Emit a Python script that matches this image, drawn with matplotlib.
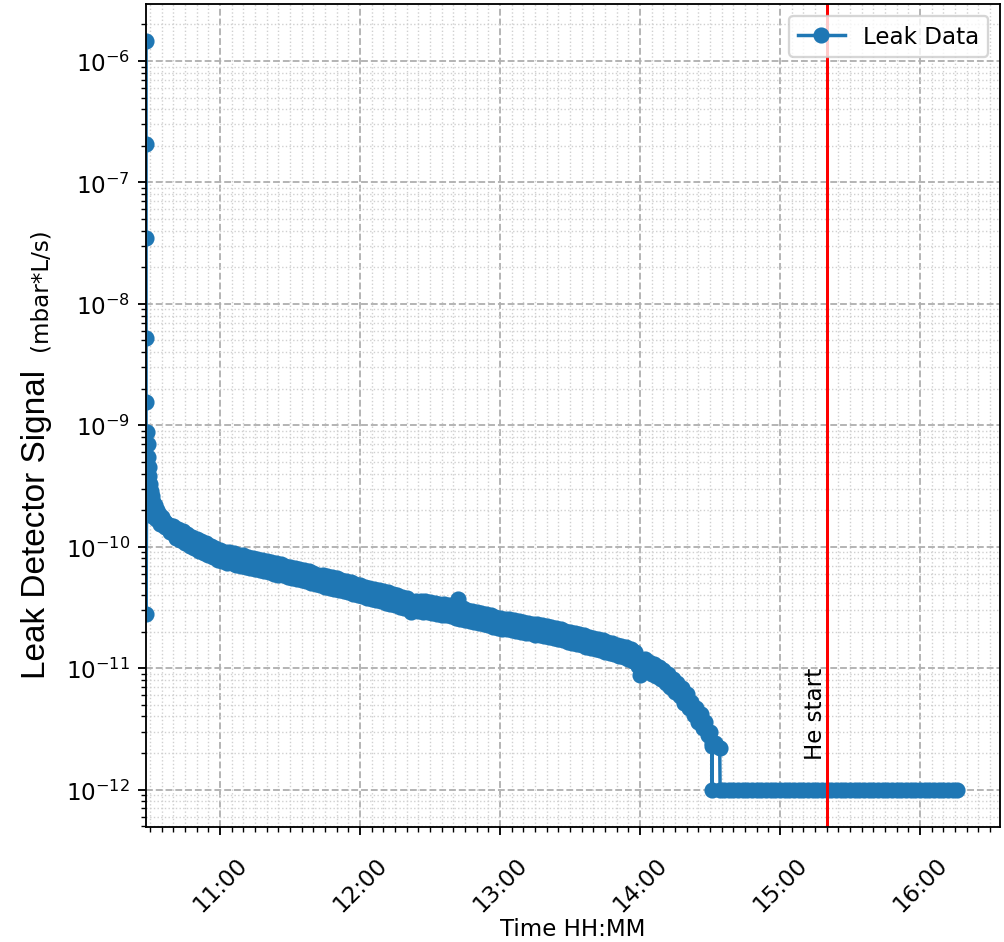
import numpy as np
import pandas as pd
import matplotlib
matplotlib.use("Agg")
import matplotlib.pyplot as plt
import matplotlib.dates as mdates
from matplotlib.ticker import LogLocator, NullFormatter

day = "2024-05-10 "

# first readings right after start (spikes + fast pump-down)
start_times = ["10:28:20"] * 6 + [
    "10:28:40", "10:28:50", "10:29:00", "10:29:10", "10:29:20", "10:29:30",
    "10:29:45", "10:30:00", "10:30:20", "10:30:40", "10:31:00", "10:31:30",
    "10:32:00", "10:32:30", "10:33:00", "10:34:00", "10:34:30", "10:35:00",
    "10:36:00", "10:36:30", "10:37:00", "10:38:00", "10:38:30", "10:39:00"]
start_values = [1.45e-6, 2.07e-7, 3.47e-8, 5.2e-9, 1.55e-9, 2.8e-11,
                8.8e-10, 2.1e-10, 7.0e-10, 5.5e-10, 1.9e-10, 4.5e-10,
                3.8e-10, 3.3e-10, 2.9e-10, 1.8e-10, 2.6e-10, 2.35e-10,
                2.2e-10, 1.7e-10, 2.0e-10, 1.85e-10, 1.55e-10, 1.75e-10,
                1.62e-10, 1.45e-10, 1.58e-10, 1.5e-10, 1.32e-10, 1.45e-10]

# slow decay, readings on even minutes 10:40 ... 14:30 (upper side of the noisy band)
even_values = [
    1.49e-10, 1.41e-10, 1.34e-10, 1.28e-10, 1.21e-10, 1.16e-10, 1.11e-10, 1.07e-10,
    1.02e-10, 9.8e-11, 9.4e-11, 9.1e-11, 9.0e-11, 8.8e-11, 8.6e-11, 8.5e-11,
    8.3e-11, 8.1e-11, 7.9e-11, 7.8e-11, 7.6e-11, 7.5e-11, 7.3e-11, 7.2e-11,
    6.9e-11, 6.8e-11, 6.7e-11, 6.5e-11, 6.4e-11, 6.3e-11, 6.1e-11, 5.9e-11,
    5.8e-11, 5.7e-11, 5.6e-11, 5.5e-11, 5.3e-11, 5.2e-11, 5.1e-11, 4.95e-11,
    4.8e-11, 4.7e-11, 4.6e-11, 4.5e-11, 4.4e-11, 4.3e-11, 4.2e-11, 4.1e-11,
    4.0e-11, 3.85e-11, 3.75e-11, 2.9e-11, 3.6e-11, 3.6e-11, 3.55e-11, 3.5e-11,
    3.45e-11, 3.4e-11, 3.35e-11, 3.3e-11, 3.2e-11, 3.7e-11, 3.1e-11, 3.0e-11,
    2.97e-11, 2.9e-11, 2.84e-11, 2.78e-11, 2.73e-11, 2.66e-11, 2.6e-11, 2.56e-11,
    2.53e-11, 2.49e-11, 2.44e-11, 2.41e-11, 2.37e-11, 2.33e-11, 2.29e-11, 2.26e-11,
    2.22e-11, 2.19e-11, 2.13e-11, 2.09e-11, 2.04e-11, 1.99e-11, 1.95e-11, 1.9e-11,
    1.86e-11, 1.82e-11, 1.77e-11, 1.74e-11, 1.69e-11, 1.65e-11, 1.61e-11, 1.56e-11,
    1.53e-11, 1.49e-11, 1.44e-11, 1.35e-11, 8.8e-12, 1.18e-11, 1.12e-11, 1.08e-11,
    1.03e-11, 9.7e-12, 8.9e-12, 8.1e-12, 7.5e-12, 6.8e-12, 6.1e-12, 5.3e-12,
    4.7e-12, 4.2e-12, 3.6e-12, 3.0e-12]
even_times = pd.date_range(day + "10:40", day + "14:30", freq="2min")

# readings on odd minutes 10:41 ... 14:29 (lower side of the noisy band)
odd_values = [
    1.18e-10, 1.13e-10, 1.07e-10, 1.02e-10, 9.7e-11, 9.3e-11, 8.9e-11, 8.6e-11,
    8.2e-11, 7.8e-11, 7.6e-11, 7.4e-11, 7.3e-11, 7.1e-11, 7.0e-11, 6.8e-11,
    6.7e-11, 6.6e-11, 6.4e-11, 6.3e-11, 6.2e-11, 6.0e-11, 5.9e-11, 5.8e-11,
    5.6e-11, 5.5e-11, 5.4e-11, 5.3e-11, 5.2e-11, 5.0e-11, 4.9e-11, 4.8e-11,
    4.7e-11, 4.6e-11, 4.5e-11, 4.4e-11, 4.3e-11, 4.2e-11, 4.1e-11, 4.0e-11,
    3.9e-11, 3.8e-11, 3.7e-11, 3.65e-11, 3.55e-11, 3.45e-11, 3.4e-11, 3.3e-11,
    3.2e-11, 3.1e-11, 3.05e-11, 3.0e-11, 2.95e-11, 2.9e-11, 2.88e-11, 2.84e-11,
    2.79e-11, 2.75e-11, 2.72e-11, 2.67e-11, 2.6e-11, 2.56e-11, 2.5e-11, 2.46e-11,
    2.4e-11, 2.35e-11, 2.3e-11, 2.25e-11, 2.2e-11, 2.16e-11, 2.12e-11, 2.09e-11,
    2.05e-11, 2.02e-11, 1.98e-11, 1.95e-11, 1.93e-11, 1.89e-11, 1.86e-11, 1.84e-11,
    1.8e-11, 1.77e-11, 1.73e-11, 1.69e-11, 1.65e-11, 1.61e-11, 1.58e-11, 1.54e-11,
    1.5e-11, 1.47e-11, 1.44e-11, 1.4e-11, 1.37e-11, 1.33e-11, 1.3e-11, 1.26e-11,
    1.23e-11, 1.2e-11, 1.14e-11, 1.05e-11, 9.9e-12, 9.5e-12, 9.0e-12, 8.6e-12,
    8.2e-12, 7.6e-12, 7.0e-12, 6.4e-12, 5.9e-12, 5.2e-12, 4.7e-12, 4.1e-12,
    3.6e-12, 3.2e-12, 2.8e-12]
odd_times = pd.date_range(day + "10:41", day + "14:29", freq="2min")

# reaching the detector floor
tail_times = ["14:30:50", "14:30:55", "14:31:00", "14:32:00", "14:33:00",
              "14:34:10", "14:34:20"]
tail_values = [2.4e-12, 1.0e-12, 2.3e-12, 2.4e-12, 2.3e-12, 2.2e-12, 1.0e-12]

floor_value = 1.0e-12
floor_times = pd.date_range(day + "14:36", day + "16:16", freq="2min")

he_start = pd.Timestamp(day + "15:20")
x_min = pd.Timestamp(day + "10:28:18")
x_max = pd.Timestamp(day + "16:34:17")

first = pd.Series(start_values, index=pd.to_datetime([day + t for t in start_times]))
band = pd.concat([pd.Series(even_values, index=even_times),
                  pd.Series(odd_values, index=odd_times)]).sort_index()
tail = pd.Series(tail_values, index=pd.to_datetime([day + t for t in tail_times]))
floor = pd.Series(floor_value, index=floor_times)
data = pd.concat([first, band, tail, floor])

dpi = 166
fig = plt.figure(figsize=(1004 / dpi, 943 / dpi), dpi=dpi)
ax = fig.add_axes([146 / 1004, 1 - 828 / 943, 854 / 1004, 823 / 943])

ax.plot(data.index, data.values, marker="o", label="Leak Data")
ax.axvline(he_start, color="red", linewidth=1.3)
ax.text(he_start, 1.8e-12, "He start", rotation=90, ha="right", va="bottom")

ax.set_yscale("log")
ax.yaxis.set_major_locator(LogLocator(base=10, numticks=100))
ax.yaxis.set_minor_locator(LogLocator(base=10, subs=np.arange(2, 10), numticks=100))
ax.yaxis.set_minor_formatter(NullFormatter())

ax.set_xlim(x_min, x_max)
ax.xaxis.set_major_locator(mdates.HourLocator())
ax.xaxis.set_minor_locator(mdates.MinuteLocator(byminute=range(0, 60, 5)))
ax.xaxis.set_major_formatter(mdates.DateFormatter("%H:%M"))
ax.xaxis.set_minor_formatter(NullFormatter())
ax.tick_params(axis="x", which="major", pad=7.5)
plt.setp(ax.get_xticklabels(), rotation=45)

ax.grid(True, which="major", linestyle="--", linewidth=0.8, color="#b0b0b0")
ax.grid(True, which="minor", linestyle=":", linewidth=0.6, color="#d0d0d0")

ax.set_xlabel("Time HH:MM")
ax.xaxis.set_label_coords(0.5, -0.109)
fig.text(37 / 1004, 1 - 524 / 943, "Leak Detector Signal", rotation=90,
         ha="center", va="center", fontsize=14.5, family="Liberation Sans")
fig.text(40 / 1004, 1 - 290 / 943, "(mbar*L/s)", rotation=90,
         ha="center", va="center")

ax.legend(loc="upper right")

fig.savefig("out.png", dpi=dpi)
